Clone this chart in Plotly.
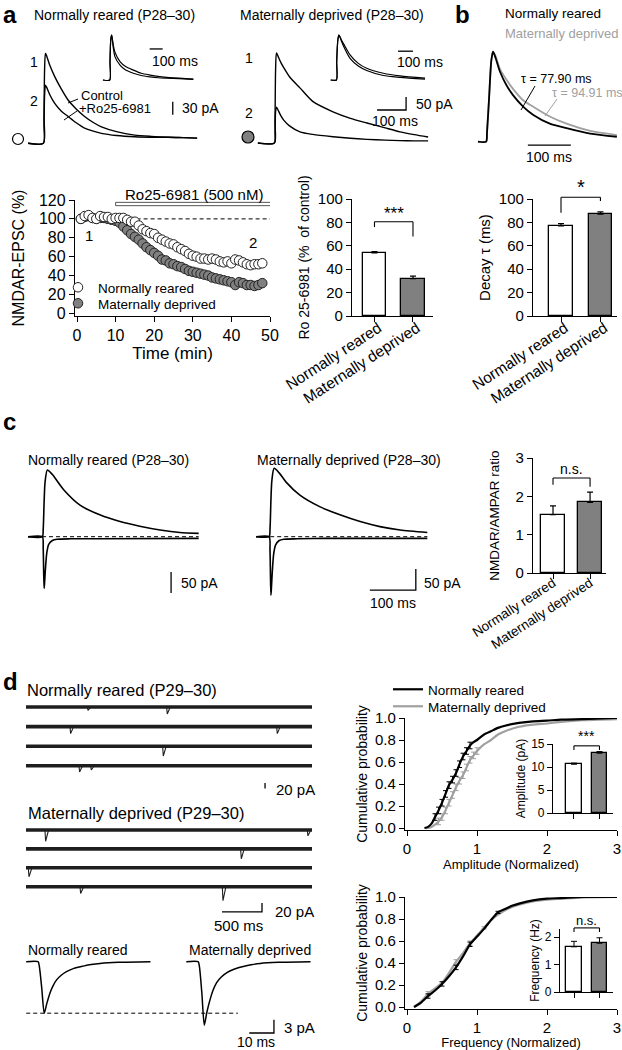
import plotly.graph_objects as go

W, H = 622, 1050
FONT = "Liberation Sans, Arial, Helvetica, sans-serif"
GREY = "#808080"
LIGHT = "#a0a0a0"

groups = ["Normally reared", "Maternally deprived"]

# ---- a: NMDAR-EPSCs before / after Ro25-6981 (ms, pA) ----
a_nr_t = [-55, -2, 0, 2, 5, 10, 20, 37, 60, 83, 110, 140, 170, 198, 250, 313, 370, 428, 480, 528]
a_nr_ctrl = [0, 0, 60, 170, 208, 200, 180, 154, 125, 100, 80, 62, 48, 38, 27, 19, 16, 14, 13, 12]
a_nr_ro = [0, 0, 40, 110, 134, 128, 112, 92, 74, 62, 48, 35, 28, 23, 18, 15, 14, 14, 13, 12]

a_md_t = [-59, -2, 0, 2, 5, 10, 20, 30, 50, 86, 130, 200, 260, 317, 380, 431, 480, 528]
a_md_ctrl = [0, 0, 80, 280, 346, 335, 310, 290, 255, 212, 160, 120, 95, 77, 58, 43, 32, 23]
a_md_ro = [0, 0, 40, 120, 138, 128, 105, 88, 66, 43, 33, 24, 18, 14, 11, 9, 8, 8]

# insets: peak-scaled traces
ins_nr_t = [-54, -2, 0, 6, 13, 25, 38, 77, 120, 180, 240, 308, 370, 436, 530, 641]
ins_nr_ctrl = [0, 0, 0.4, 0.9, 1.0, 0.78, 0.62, 0.41, 0.3, 0.22, 0.15, 0.11, 0.08, 0.06, 0.04, 0.02]
ins_nr_ro = [0, 0, 0.4, 0.9, 1.0, 0.72, 0.52, 0.33, 0.22, 0.15, 0.1, 0.07, 0.05, 0.04, 0.03, 0.015]
ins_md_t = [-40, -2, 0, 8, 15, 30, 50, 89, 144, 200, 311, 422, 589]
ins_md_ctrl = [0, 0, 0.4, 0.9, 1.0, 0.9, 0.78, 0.56, 0.37, 0.26, 0.15, 0.09, 0.04]
ins_md_ro = [0, 0, 0.4, 0.9, 1.0, 0.88, 0.72, 0.48, 0.31, 0.21, 0.10, 0.06, 0.02]

# time course (min, % of baseline)
tc_time = list(range(1, 49))
tc_nr = [100, 103, 104, 101, 100, 103, 102, 102, 100, 101, 101, 101, 99, 97, 97, 93, 89, 87, 85, 84,
         80, 78, 76, 74, 73, 70, 68, 66, 63, 61, 60, 58, 58, 57, 58, 57, 55, 54, 55, 53,
         57, 56, 54, 52, 51, 52, 52, 53]
tc_md = [100, 102, 103, 101, 100, 101, 101, 100, 99, 98, 96, 92, 88, 84, 81, 78, 74, 70, 67, 64,
         61, 57, 56, 53, 52, 50, 49, 47, 45, 44, 43, 42, 41, 40, 38, 37, 36, 35, 34, 33,
         30, 33, 32, 30, 30, 29, 30, 32]

ro_mean = [54, 32]
ro_err = [1, 2]

# ---- b: decay ----
b_t = [-21, -2, 0, 5, 10, 14, 20, 30, 45, 60, 84, 107, 146, 185, 240, 302]
b_nr = [0, 0, 0.1, 0.5, 0.9, 1.0, 0.93, 0.78, 0.63, 0.52, 0.39, 0.30, 0.20, 0.15, 0.09, 0.055]
b_md = [0, 0, 0.1, 0.5, 0.9, 1.0, 0.95, 0.81, 0.69, 0.59, 0.46, 0.39, 0.28, 0.20, 0.12, 0.074]
tau_nr, tau_md = 77.90, 94.91
decay_mean = [77, 87]
decay_err = [2, 2]

# ---- c: NMDA / AMPA ----
c_nr_t = [-33, -2, 0, 2, 4, 9, 20, 45, 80, 123, 167, 210, 254, 297, 338]
c_nr_nmda = [0, 0, 18, 83, 129, 159, 148, 111, 75, 52, 36, 25, 16, 10, 8]
c_md_t = [-30, -2, 0, 2, 4, 9, 20, 35, 65, 109, 152, 196, 239, 283, 342]
c_md_nmda = [0, 0, 18, 87, 133, 163, 152, 130, 99, 71, 52, 36, 24, 16, 10]
ampa_nr_t = [-33, -2, 0, 1, 2, 3, 5, 8, 12, 20, 30, 60, 120, 338]
ampa_nr = [0, 0, -28, -83, -123, -110, -74, -37, -18, -9, -6, -5, -5, -4]
ampa_md_t = [-30, -2, 0, 1, 2, 3, 5, 8, 12, 20, 30, 60, 120, 342]
ampa_md = [0, 0, -32, -92, -139, -124, -83, -41, -20, -9, -6, -5, -4, -4]
ratio_mean = [1.52, 1.84]
ratio_err = [0.23, 0.27]

# ---- d: mEPSCs ----
sweep_len = 3575  # ms
nr_ev_row = [0, 0, 1, 1, 2, 3, 3]
nr_ev_t = [767, 1758, 550, 3133, 1708, 662, 808]
nr_ev_amp = [12, 25, 25, 25, 35, 22, 15]
md_ev_row = [0, 0, 1, 2, 3, 3]
md_ev_t = [237, 3516, 2683, 29, 675, 2454]
md_ev_amp = [25, 13, 22, 20, 15, 31]

mini_t = [-5.3, -0.5, 0, 1, 2, 3, 4.3, 5.5, 7, 9, 11, 14, 17.8, 21, 24.6, 32, 45]
mini_nr = [0, 0, -1, -6, -11.6, -9.5, -7.1, -5.5, -4.1, -3, -2.25, -1.5, -1.0, -0.65, -0.4, -0.15, 0]
mini_md = [0, 0, -1, -7, -14.3, -11.5, -8.6, -6.5, -4.7, -3.4, -2.5, -1.7, -1.1, -0.7, -0.4, -0.15, 0]

amp_x = [0.25, 0.3, 0.35, 0.4, 0.45, 0.5, 0.55, 0.6, 0.65, 0.7, 0.75, 0.8, 0.85, 0.9, 0.95, 1.0,
         1.1, 1.2, 1.3, 1.4, 1.6, 1.8, 2.0, 2.2, 2.5, 3.0]
amp_nr = [0, 0.01, 0.04, 0.1, 0.16, 0.23, 0.31, 0.39, 0.44, 0.5, 0.58, 0.65, 0.7, 0.75, 0.78, 0.8,
          0.85, 0.88, 0.91, 0.93, 0.955, 0.97, 0.976, 0.985, 0.99, 1.0]
amp_md = [0, 0, 0.01, 0.03, 0.06, 0.1, 0.16, 0.23, 0.3, 0.37, 0.43, 0.48, 0.55, 0.62, 0.66, 0.7,
          0.76, 0.8, 0.85, 0.88, 0.92, 0.94, 0.95, 0.965, 0.98, 0.99]
amp_nr_err = [0, 0, 0, .03, .03, .03, .03, .03, .03, .03, .03, .03, .03, .03, 0, 0,
              0, 0, 0, 0, 0, 0, 0, 0, 0, 0]
amp_md_err = [0, 0, 0, 0, .03, .03, .03, .03, .03, .03, .03, .03, .03, .03, .03, .03,
              0, 0, 0, 0, 0, 0, 0, 0, 0, 0]
amp_bar = [10.6, 13.0]
amp_bar_err = [0.25, 0.35]

freq_x = [0.1, 0.2, 0.3, 0.4, 0.5, 0.6, 0.7, 0.8, 0.9, 1.0, 1.1, 1.2, 1.3, 1.4, 1.5, 1.6,
          1.8, 2.0, 2.2, 2.5, 3.0]
freq_nr = [0, 0.04, 0.1, 0.15, 0.21, 0.28, 0.36, 0.46, 0.57, 0.64, 0.71, 0.79, 0.86, 0.89, 0.92,
           0.94, 0.97, 0.985, 0.99, 1.0, 1.0]
freq_md = [0, 0.05, 0.12, 0.17, 0.22, 0.31, 0.41, 0.49, 0.58, 0.65, 0.72, 0.79, 0.84, 0.88, 0.91,
           0.93, 0.96, 0.975, 0.985, 0.995, 1.0]
freq_nr_err = [0, 0, .02, 0, .02, 0, .02, 0, .02, 0, 0, 0, .01, 0, 0, 0, 0, 0, 0, 0, 0]
freq_md_err = [0, 0, .02, 0, 0, 0, .02, 0, .02, 0, .01, 0, 0, 0, 0, 0, 0, 0, 0, 0, 0]
freq_bar = [1.65, 1.78]
freq_bar_err = [0.2, 0.2]

fig = go.Figure()
n_ax = 0
boxes = {}


def box(left, top, right, bottom, xr, yr):
    global n_ax
    n_ax += 1
    s = "" if n_ax == 1 else str(n_ax)
    common = dict(showgrid=False, zeroline=False, visible=False, fixedrange=True, automargin=False)
    fig.update_layout(**{
        "xaxis" + s: dict(domain=[left / W, right / W], range=xr, anchor="y" + s, **common),
        "yaxis" + s: dict(domain=[1 - bottom / H, 1 - top / H], range=yr, anchor="x" + s, **common),
    })
    boxes["x" + s] = (left, top, right, bottom, xr, yr)
    return "x" + s, "y" + s


def to_px(ax, x, y):
    left, top, right, bottom, xr, yr = boxes[ax[0]]
    return (left + (x - xr[0]) / (xr[1] - xr[0]) * (right - left),
            bottom - (y - yr[0]) / (yr[1] - yr[0]) * (bottom - top))


def trace_box(left, top, right, bottom, x0, y0, sx, sy):
    # origin pixel (x0, y0) = data (0, 0); sx, sy = px per data unit
    return box(left, top, right, bottom,
               [(left - x0) / sx, (right - x0) / sx], [(y0 - bottom) / sy, (y0 - top) / sy])


def style(ax, tickvals=None, ticktext=None, ytickvals=None, ytitle=None, xtitle=None,
          tsize=15, xsize=None, ttsize=14, xtsize=None, tickangle=None, yfmt=None, standoff=4,
          lw=1.3, xstand=0, xshift=0):
    ak = dict(showline=True, linecolor="black", linewidth=lw, ticks="outside", ticklen=5,
              tickcolor="black", tickwidth=lw, visible=True)
    xs, ys = "xaxis" + ax[0][1:], "yaxis" + ax[1][1:]
    fig.layout[xs].update(tickvals=tickvals, ticktext=ticktext, tickangle=tickangle,
                          ticklabelstandoff=xstand, ticklabelshift=xshift,
                          tickfont=dict(size=xsize or tsize, color="black", family=FONT), **ak)
    fig.layout[ys].update(tickvals=ytickvals, tickformat=yfmt,
                          tickfont=dict(size=tsize, color="black", family=FONT), **ak)
    if ytitle:
        fig.layout[ys].title = dict(text=ytitle, font=dict(size=ttsize, family=FONT, color="black"),
                                    standoff=standoff)
    if xtitle:
        fig.layout[xs].title = dict(text=xtitle,
                                    font=dict(size=xtsize or ttsize, family=FONT, color="black"),
                                    standoff=3)


def line(ax, x, y, color="black", width=1.4, dash=None, shape="spline", **kw):
    fig.add_trace(go.Scatter(x=x, y=y, mode="lines", xaxis=ax[0], yaxis=ax[1],
                             line=dict(color=color, width=width, dash=dash, shape=shape,
                                       smoothing=0.7 if shape == "spline" else None),
                             showlegend=False, hoverinfo="skip", cliponaxis=False, **kw))


def scalebar(ax, x0, y0, dx=0, dy=0, width=1.3):
    xs, ys = [x0], [y0]
    if dx:
        xs, ys = [x0 - dx, x0], [y0, y0]
    if dy:
        xs, ys = xs + [x0], ys + [y0 + dy]
    line(ax, xs, ys, width=width, shape="linear")


def text(x, y, s, size=14, anchor="left", color="black", bold=False):
    fig.add_annotation(x=x / W, y=1 - y / H, xref="paper", yref="paper", text=s, showarrow=False,
                       xanchor=anchor, yanchor="middle",
                       font=dict(size=size, color=color, family=FONT,
                                 weight="bold" if bold else "normal"))


def data_text(ax, x, y, s, size=14, anchor="center"):
    px, py = to_px(ax, x, y)
    text(px, py, s, size, anchor=anchor)


def seg(x0, y0, x1, y1, color="black", width=1):
    fig.add_shape(type="line", xref="paper", yref="paper", x0=x0 / W, y0=1 - y0 / H,
                  x1=x1 / W, y1=1 - y1 / H, line=dict(color=color, width=width))


def dot(x, y, r, fill):
    fig.add_shape(type="circle", xref="paper", yref="paper", xsizemode="pixel", ysizemode="pixel",
                  xanchor=x / W, yanchor=1 - y / H, x0=-r, x1=r, y0=-r, y1=r,
                  fillcolor=fill, line=dict(color="black", width=1.2))


def bars(ax, vals, errs, width, ethick=1.2):
    fig.add_trace(go.Bar(x=[0, 1], y=vals, width=width, xaxis=ax[0], yaxis=ax[1],
                         marker=dict(color=["white", GREY], line=dict(color="black", width=1.3)),
                         error_y=dict(type="data", array=errs, arrayminus=[0, 0], symmetric=False,
                                      color="black", thickness=ethick, width=3),
                         showlegend=False, hoverinfo="skip"))


def bracket(ax, yl, ytop, yr, label, lsize, ly):
    pts = [to_px(ax, 0, yl), to_px(ax, 0, ytop), to_px(ax, 1, ytop), to_px(ax, 1, yr)]
    for (x0, y0), (x1, y1) in zip(pts[:-1], pts[1:]):
        seg(x0, y0, x1, y1, width=1.1)
    data_text(ax, 0.5, ly, label, lsize)


# ================= panel a =================
text(1, 15, "a", 24, bold=True)
text(32, 15, "Normally reared (P28–30)", 14)
text(238, 15, "Maternally deprived (P28–30)", 14)

ax = trace_box(10, 40, 235, 152, 44, 143.3, 0.29, 0.433)
line(ax, a_nr_t, a_nr_ctrl)
line(ax, a_nr_t, a_nr_ro)
scalebar(ax, 444, 66, dy=30)
text(180, 108, "30 pA", 14)
text(28, 62, "1", 14)
text(28, 101, "2", 14)
text(79, 96, "Control", 13)
text(77, 108, "+Ro25-6981", 13)
seg(78, 99, 68, 103)
seg(77, 111, 64, 120)
dot(18, 139, 5.5, "white")

ax = trace_box(100, 28, 200, 86, 110, 80, 0.13, 45)
line(ax, ins_nr_t, ins_nr_ctrl, width=1.2)
line(ax, ins_nr_t, ins_nr_ro, width=1.2)
scalebar(ax, 405, 0.69, dx=100)
text(150, 61, "100 ms", 14)

ax = trace_box(240, 40, 450, 152, 275, 143, 0.29, 0.26)
line(ax, a_md_t, a_md_ctrl)
line(ax, a_md_t, a_md_ro)
scalebar(ax, 452, 127, dx=100, dy=50)
text(414, 104, "50 pA", 14)
text(395, 121, "100 ms", 14, anchor="center")
text(243, 58, "1", 14)
text(243, 113, "2", 14)
dot(248, 137, 6, GREY)

ax = trace_box(330, 28, 440, 86, 336.7, 80, 0.15, 45)
line(ax, ins_md_t, ins_md_ctrl, width=1.2)
line(ax, ins_md_t, ins_md_ro, width=1.2)
scalebar(ax, 509, 0.64, dx=100)
text(395, 62, "100 ms", 14)

# time course
ax = box(75, 200, 270, 316, [-0.52, 50], [-2.8, 120])
style(ax, tickvals=[0, 10, 20, 30, 40, 50], ytickvals=[0, 20, 40, 60, 80, 100, 120],
      ytitle="NMDAR-EPSC (%)", xtitle="Time (min)", tsize=16, ttsize=16, xtsize=17, standoff=10)
line(ax, [10, 50], [100, 100], width=1, dash="4px,3px", shape="linear")
fig.add_shape(type="rect", xref=ax[0], yref=ax[1], x0=10, x1=50.5, y0=114, y1=117.5,
              fillcolor="white", line=dict(color="#555", width=1))
data_text(ax, 30.3, 126, "Ro25-6981 (500 nM)", 15)
data_text(ax, 3, 82, "1", 15)
data_text(ax, 45.5, 75, "2", 15)
fig.add_trace(go.Scatter(x=tc_time, y=tc_md, mode="markers", xaxis=ax[0], yaxis=ax[1],
                         name="Maternally deprived", legend="legend3", hoverinfo="skip",
                         marker=dict(size=9.5, color=GREY, line=dict(color="#222", width=1))))
fig.add_trace(go.Scatter(x=tc_time, y=tc_nr, mode="markers", xaxis=ax[0], yaxis=ax[1],
                         name="Normally reared", legend="legend", hoverinfo="skip",
                         marker=dict(size=9.5, color="white", line=dict(color="#222", width=1))))

# Ro bar chart
ax = box(352, 199, 433, 316, [-0.584, 1.52], [0, 100])
bars(ax, ro_mean, ro_err, 0.6)
style(ax, tickvals=[0, 1], ticktext=groups, ytickvals=[0, 20, 40, 60, 80, 100],
      ytitle="Ro 25-6981 (%  of control)", tsize=15, xsize=15.5, ttsize=14, tickangle=-33,
      xstand=-9, xshift=4)
bracket(ax, 76, 80.6, 68, "***", 17, 88)

# ================= panel b =================
text(453, 15, "b", 24, bold=True)
text(503, 14, "Normally reared", 13.5)
text(503, 33, "Maternally deprived", 13, color=LIGHT)
ax = trace_box(470, 45, 622, 160, 487, 141.7, 0.43, 90)
line(ax, b_t, b_md, color=LIGHT, width=1.8)
line(ax, b_t, b_nr, width=1.8)
scalebar(ax, 195, -0.037, dx=100)
text(549, 157, "100 ms", 14, anchor="center")
text(519, 79, f"τ = {tau_nr:.2f} ms", 12.5)
text(550, 93, f"τ = {tau_md:.2f} ms", 12.5, color=LIGHT)
seg(535, 86, 521, 110)
seg(557, 99, 545, 116, color=LIGHT)

ax = box(533, 199, 617, 316, [-0.71, 1.42], [0, 100])
bars(ax, decay_mean, decay_err, 0.6)
style(ax, tickvals=[0, 1], ticktext=groups, ytickvals=[0, 20, 40, 60, 80, 100],
      ytitle="Decay τ (ms)", tsize=15, xsize=15.5, ttsize=15, tickangle=-33, xstand=-9,
      xshift=4)
bracket(ax, 88.3, 101.5, 98.3, "*", 20, 110)

# ================= panel c =================
text(1, 421, "c", 24, bold=True)
text(26, 460, "Normally reared (P28–30)", 14)
text(255, 460, "Maternally deprived (P28–30)", 14)

ax = trace_box(15, 460, 235, 610, 43.2, 536.7, 0.46, 0.42)
line(ax, [c_nr_t[0], c_nr_t[-1]], [0, 0], width=1, dash="4px,3px", shape="linear")
line(ax, c_nr_t, c_nr_nmda, width=1.6)
line(ax, ampa_nr_t, ampa_nr, width=1.6)
scalebar(ax, 278, -134, dy=50)
text(179, 583, "50 pA", 14)

ax = trace_box(245, 460, 440, 610, 270, 536.7, 0.46, 0.42)
line(ax, [c_md_t[0], c_md_t[-1]], [0, 0], width=1, dash="4px,3px", shape="linear")
line(ax, c_md_t, c_md_nmda, width=1.6)
line(ax, ampa_md_t, ampa_md, width=1.6)
scalebar(ax, 317, -127, dx=100, dy=50)
text(422, 583, "50 pA", 14)
text(393, 603, "100 ms", 14, anchor="center")

ax = box(533, 458, 606, 573, [-0.54, 1.43], [0, 3])
bars(ax, ratio_mean, ratio_err, 0.65)
style(ax, tickvals=[0, 1], ticktext=groups, ytickvals=[0, 1, 2, 3],
      ytitle="NMDAR/AMPAR ratio", tsize=15, xsize=13.5, ttsize=13.5, tickangle=-33, xstand=-9,
      standoff=12)
bracket(ax, 2.3, 2.48, 2.25, "n.s.", 14, 2.72)

# ================= panel d =================
text(1, 681, "d", 24, bold=True)
text(25, 690, "Normally reared (P29–30)", 16.5)
text(26, 813, "Maternally deprived (P29–30)", 16.5)


def sweeps(ax, n_rows, gap, ev_row, ev_t, ev_amp):
    bx, by = [], []
    for r in range(n_rows):
        bx += [0, sweep_len, None]
        by += [-r * gap, -r * gap, None]
    line(ax, bx, by, color="#1e1e1e", width=3.6, shape="linear")
    ex, ey = [], []
    for r, t, a in zip(ev_row, ev_t, ev_amp):
        ex += [t, t + 8, t + 45, None]
        ey += [-r * gap, -r * gap - a, -r * gap, None]
    line(ax, ex, ey, color="#1e1e1e", width=1.1, shape="linear")


ax = trace_box(20, 697, 320, 800, 26, 707, 0.08, 0.28)
sweeps(ax, 4, 70, nr_ev_row, nr_ev_t, nr_ev_amp)
scalebar(ax, 2988, -291, dy=20)
text(274, 789, "20 pA", 15)

ax = trace_box(20, 820, 320, 935, 26, 830, 0.08, 0.45)
sweeps(ax, 4, 42, md_ev_row, md_ev_t, md_ev_amp)
scalebar(ax, 2950, -182, dx=500, dy=20)
text(273, 911, "20 pA", 15)
text(238, 925, "500 ms", 15, anchor="center")

text(26, 950, "Normally reared", 14)
text(187, 950, "Maternally deprived", 14)
ax = trace_box(20, 940, 320, 1050, 39.3, 961.7, 2.47, 4.44)
line(ax, [mini_t[0], 80.4], [min(mini_nr), min(mini_nr)], width=1, dash="4px,3px", shape="linear")
line(ax, mini_t, mini_nr, width=1.5)
md_shift = 64.8
line(ax, [t + md_shift for t in mini_t], mini_md, width=1.5)
scalebar(ax, 95, -16.06, dx=10, dy=3)
text(282, 1027, "3 pA", 15)
text(256, 1042, "10 ms", 14, anchor="center")


def cumulative(ax, x, y, err, color, name, legend):
    fig.add_trace(go.Scatter(x=x, y=y, mode="lines", xaxis=ax[0], yaxis=ax[1], name=name,
                             legend=legend, showlegend=legend is not None, hoverinfo="skip",
                             line=dict(color=color, width=2.2, shape="spline", smoothing=0.6)))
    px = [a for a, e in zip(x, err) if e > 0]
    py = [b for b, e in zip(y, err) if e > 0]
    pe = [e for e in err if e > 0]
    fig.add_trace(go.Scatter(x=px, y=py, mode="markers", xaxis=ax[0], yaxis=ax[1],
                             marker=dict(size=1, color=color), showlegend=False, hoverinfo="skip",
                             error_y=dict(type="data", array=pe, color=color, thickness=1,
                                          width=2.5)))


ax = box(405, 718, 617, 830, [-0.029, 3], [-0.018, 1.0])
cumulative(ax, amp_x, amp_md, amp_md_err, LIGHT, "Maternally deprived", "legend4")
cumulative(ax, amp_x, amp_nr, amp_nr_err, "black", "Normally reared", "legend2")
style(ax, tickvals=[0, 1, 2, 3], ytickvals=[0, 0.2, 0.4, 0.6, 0.8, 1.0], yfmt=".1f",
      ytitle="Cumulative probability", xtitle="Amplitude (Normalized)", tsize=15, ttsize=14,
      xtsize=13)

ax = box(553, 744, 613, 813, [-0.82, 1.53], [0, 15])
bars(ax, amp_bar, amp_bar_err, 0.62, ethick=1)
style(ax, tickvals=[0, 1], ticktext=["", ""], ytickvals=[0, 5, 10, 15],
      ytitle="Amplitude (pA)", tsize=12, ttsize=12, lw=1.1, standoff=2)
bracket(ax, 13.7, 14.6, 13.7, "***", 14, 16.8)

ax = box(405, 897, 617, 1009, [-0.029, 3], [-0.018, 1.0])
cumulative(ax, freq_x, freq_md, freq_md_err, LIGHT, None, None)
cumulative(ax, freq_x, freq_nr, freq_nr_err, "black", None, None)
style(ax, tickvals=[0, 1, 2, 3], ytickvals=[0, 0.2, 0.4, 0.6, 0.8, 1.0], yfmt=".1f",
      ytitle="Cumulative probability", xtitle="Frequency (Normalized)", tsize=15, ttsize=14,
      xtsize=13)

ax = box(560, 929, 613, 992, [-0.55, 1.53], [0, 2.3])
bars(ax, freq_bar, freq_bar_err, 0.62, ethick=1)
style(ax, tickvals=[0, 1], ticktext=["", ""], ytickvals=[0, 1, 2],
      ytitle="Frequency (Hz)", tsize=12, ttsize=12, lw=1.1, standoff=2)
bracket(ax, 2.19, 2.34, 2.19, "n.s.", 13, 2.6)


def legend_at(x, y, size=13.5):
    return dict(x=x / W, y=1 - y / H, xanchor="left", yanchor="top", bgcolor="rgba(0,0,0,0)",
                font=dict(size=size, family=FONT, color="black"), itemwidth=30)


fig.update_layout(
    width=W, height=H, autosize=False, margin=dict(l=0, r=0, t=0, b=0, autoexpand=False),
    paper_bgcolor="white", plot_bgcolor="rgba(0,0,0,0)", bargap=0,
    font=dict(family=FONT, color="black"),
    legend=legend_at(58, 272), legend3=legend_at(58, 288),
    legend2=legend_at(388, 674), legend4=legend_at(388, 691),
)

fig.write_html("out.html", config={"displayModeBar": False},
               post_script="document.body.style.margin='0px';")
